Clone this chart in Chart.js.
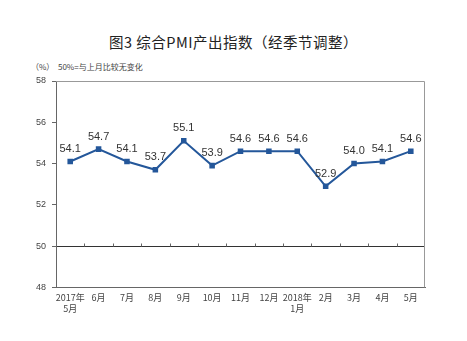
<!DOCTYPE html>
<html lang="zh">
<head>
    <meta charset="UTF-8">
    <title>综合PMI产出指数</title>
    <script src="https://cdn.jsdelivr.net/npm/chart.js"></script>
    <style>
        body { margin: 0; background: #fff; font-family: "Noto Sans CJK SC", sans-serif; }
        #wrap { position: relative; width: 467px; height: 341px; }
        #title { position: absolute; left: 0; width: 467px; top: 31px; text-align: center;
                 font-size: 14.5px; color: #222; letter-spacing: 0.5px; }
        #note { position: absolute; left: 31px; top: 61px; font-size: 8px; color: #444; }
        canvas { position: absolute; left: 0; top: 0; }
    </style>
</head>
<body>
<div id="wrap">
    <div id="title">图3 综合PMI产出指数（经季节调整）</div>
    <div id="note">（%）&nbsp;&nbsp;50%=与上月比较无变化</div>
    <canvas id="pmiChart" width="467" height="341"></canvas>
</div>
<script>
    // Data
    const months = [['2017年', '5月'], '6月', '7月', '8月', '9月', '10月', '11月', '12月', ['2018年', '1月'], '2月', '3月', '4月', '5月'];
    const pmiValues = [54.1, 54.7, 54.1, 53.7, 55.1, 53.9, 54.6, 54.6, 54.6, 52.9, 54.0, 54.1, 54.6];
    const yTicks = [48, 50, 52, 54, 56, 58];
    const baseline = 50;

    const lineColor = '#24579a';

    // value labels above each point
    const valueLabels = {
        id: 'valueLabels',
        afterDatasetsDraw(chart) {
            const ctx = chart.ctx;
            const meta = chart.getDatasetMeta(0);
            ctx.save();
            ctx.font = '11px Arial, "Liberation Sans", sans-serif';
            ctx.fillStyle = '#333';
            ctx.textAlign = 'center';
            ctx.textBaseline = 'bottom';
            meta.data.forEach((pt, i) => {
                ctx.fillText(pmiValues[i].toFixed(1), pt.x, pt.y - 7);
            });
            ctx.restore();
        }
    };

    // box around plot area + small ticks on the 50 line
    const frame = {
        id: 'frame',
        beforeDatasetsDraw(chart) {
            const { ctx, chartArea: a, scales } = chart;
            ctx.save();
            ctx.strokeStyle = '#999';
            ctx.lineWidth = 1;
            ctx.beginPath();
            ctx.moveTo(a.left, a.top + 0.5);
            ctx.lineTo(a.right - 0.5, a.top + 0.5);
            ctx.lineTo(a.right - 0.5, a.bottom);
            ctx.stroke();
            const y = Math.round(scales.y.getPixelForValue(baseline)) + 0.5;
            ctx.strokeStyle = '#666';
            ctx.beginPath();
            for (let i = 0; i < pmiValues.length - 1; i++) {
                const x = Math.round((scales.x.getPixelForValue(i) + scales.x.getPixelForValue(i + 1)) / 2) + 0.5;
                ctx.moveTo(x, y);
                ctx.lineTo(x, y - 3);
            }
            ctx.stroke();
            ctx.restore();
        }
    };

    new Chart(document.getElementById('pmiChart'), {
        type: 'line',
        data: {
            labels: months,
            datasets: [{
                data: pmiValues,
                borderColor: lineColor,
                backgroundColor: lineColor,
                borderWidth: 2,
                pointStyle: 'rect',
                pointRadius: 2.5,
                pointHoverRadius: 2.5,
                tension: 0
            }]
        },
        options: {
            responsive: false,
            animation: false,
            layout: { padding: { left: 30, right: 42, top: 81, bottom: 22 } },
            plugins: {
                legend: { display: false },
                tooltip: { enabled: false }
            },
            scales: {
                x: {
                    offset: true,
                    grid: { display: false, drawTicks: false },
                    border: { color: '#666', width: 1 },
                    ticks: {
                        color: '#444',
                        font: { size: 9, family: '"Noto Sans CJK SC", sans-serif' },
                        padding: 5,
                        maxRotation: 0,
                        autoSkip: false
                    }
                },
                y: {
                    min: 48,
                    max: 58,
                    afterBuildTicks(scale) {
                        scale.ticks = yTicks.map(v => ({ value: v }));
                    },
                    grid: {
                        color: ctx => ctx.tick && ctx.tick.value === baseline ? '#333' : 'rgba(0,0,0,0)',
                        tickColor: '#666',
                        tickLength: 4,
                        lineWidth: 1
                    },
                    border: { color: '#666', width: 1 },
                    ticks: {
                        color: '#444',
                        font: { size: 9, family: 'Arial, "Liberation Sans", sans-serif' },
                        padding: 6
                    }
                }
            }
        },
        plugins: [frame, valueLabels]
    });
</script>
</body>
</html>
